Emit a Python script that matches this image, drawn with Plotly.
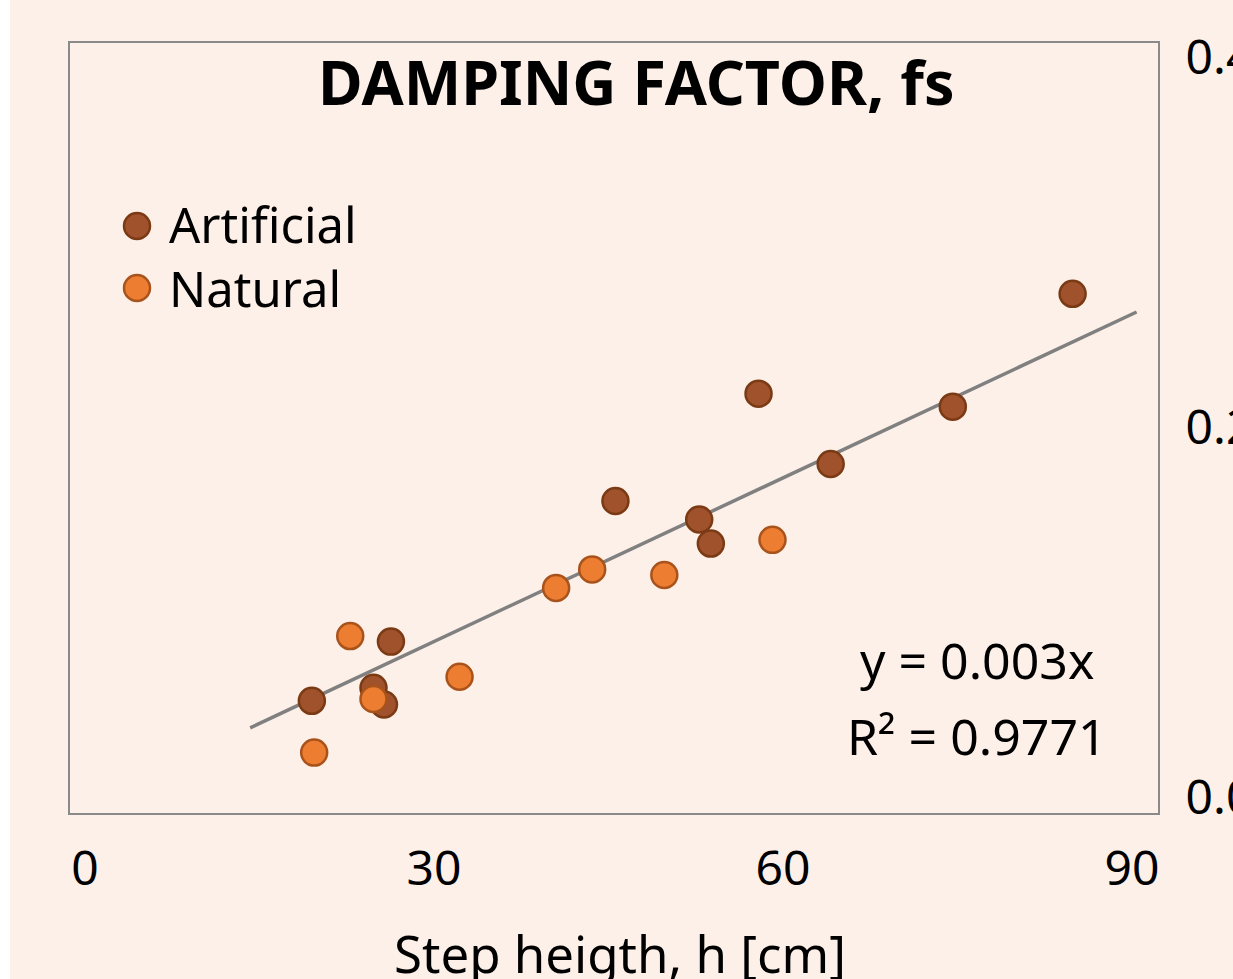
import plotly.graph_objects as go

# ---- data ----
art_x = [84.9, 57.9, 74.6, 64.1, 45.6, 52.8, 53.8, 26.3, 19.5, 24.8, 25.7]
art_y = [0.272, 0.218, 0.211, 0.180, 0.160, 0.150, 0.137, 0.084, 0.052, 0.059, 0.050]
nat_x = [59.1, 43.6, 49.8, 40.5, 22.8, 32.2, 24.8, 19.7]
nat_y = [0.139, 0.123, 0.120, 0.113, 0.087, 0.065, 0.053, 0.024]

trend_slope = 0.00295
trend_intercept = -0.0045
trend_x = [14.2, 90.4]

x_ticks = [0, 30, 60, 90]
y_ticks = [0.0, 0.2, 0.4]
series_names = ["Artificial", "Natural"]
title_text = "<b>DAMPING FACTOR, fs</b>"
x_title = "Step heigth, h [cm]"
eq_lines = ["y = 0.003x", "R² = 0.9771"]

# ---- style ----
BG = "#FDF0E9"
FONT = "Noto Sans"
ART_FILL, ART_LINE = "#A0522D", "#7A3A14"
NAT_FILL, NAT_LINE = "#ED7D31", "#A9531C"

W, H = 1233, 979
L, R, T, B = 70, 75, 43, 166
PW, PH = W - L - R, H - T - B


def px(xp):
    return (xp - L) / PW


def py(yp):
    return (H - B - yp) / PH


fig = go.Figure()

trend_y = [trend_slope * v + trend_intercept for v in trend_x]
fig.add_trace(go.Scatter(x=trend_x, y=trend_y, mode="lines",
                         line=dict(color="#808080", width=3.5),
                         showlegend=False, hoverinfo="skip"))

fig.add_trace(go.Scatter(x=art_x, y=art_y, mode="markers", name=series_names[0],
                         marker=dict(size=26, color=ART_FILL,
                                     line=dict(color=ART_LINE, width=2.5)),
                         showlegend=False))
fig.add_trace(go.Scatter(x=nat_x, y=nat_y, mode="markers", name=series_names[1],
                         marker=dict(size=26, color=NAT_FILL,
                                     line=dict(color=NAT_LINE, width=2.5)),
                         showlegend=False))

shapes = [
    dict(type="rect", xref="paper", yref="paper", x0=px(0), x1=px(10),
         y0=py(H), y1=py(0), fillcolor="white", line=dict(width=0), layer="below"),
]
# custom legend markers
for i, (fill, line) in enumerate([(ART_FILL, ART_LINE), (NAT_FILL, NAT_LINE)]):
    cy = 226 + 62 * i
    shapes.append(dict(type="circle", xref="paper", yref="paper",
                       xsizemode="pixel", ysizemode="pixel",
                       xanchor=px(137), yanchor=py(cy),
                       x0=-13, x1=13, y0=-13, y1=13,
                       fillcolor=fill, line=dict(color=line, width=2.5)))

annotations = [
    dict(text=title_text, xref="paper", yref="paper", x=px(636), y=py(82),
         xanchor="center", yanchor="middle", showarrow=False,
         font=dict(family=FONT, size=61, color="black")),
    dict(text=x_title, xref="paper", yref="paper", x=px(620), y=py(953),
         xanchor="center", yanchor="middle", showarrow=False,
         font=dict(family=FONT, size=51, color="black")),
    # legend labels in one text block
    dict(text="<br>".join(series_names), xref="paper", yref="paper",
         x=px(167), y=py(256), align="left",
         xanchor="left", yanchor="middle", showarrow=False,
         font=dict(family=FONT, size=49, color="black")),
]
for i, t in enumerate(eq_lines):
    annotations.append(dict(text=t, xref="paper", yref="paper",
                            x=px(977), y=py(660 + 76 * i),
                            xanchor="center", yanchor="middle", showarrow=False,
                            font=dict(family=FONT, size=50, color="black")))

fig.update_layout(
    width=W, height=H,
    margin=dict(l=L, r=R, t=T, b=B, autoexpand=False),
    paper_bgcolor=BG, plot_bgcolor=BG,
    font=dict(family=FONT, size=48, color="black"),
    shapes=shapes, annotations=annotations,
    showlegend=False,
)
fig.update_xaxes(range=[-1.29, 92.24], tickvals=x_ticks, ticktext=[str(v) for v in x_ticks],
                 showgrid=False, zeroline=False, showline=True, mirror=True,
                 linecolor="#8A8A8A", linewidth=2, ticks="",
                 ticklabelstandoff=12, automargin=False,
                 tickfont=dict(family=FONT, size=48, color="black"))
fig.update_yaxes(range=[-0.00865, 0.40757], tickvals=y_ticks,
                 ticktext=[f"{v:.1f}" for v in y_ticks], side="right",
                 showgrid=False, zeroline=False, showline=True, mirror=True,
                 linecolor="#8A8A8A", linewidth=2, ticks="",
                 ticklabelstandoff=16, automargin=False,
                 tickfont=dict(family=FONT, size=48, color="black"))

fig.write_html("out.html", config={"displayModeBar": False},
               post_script="document.body.style.margin='0';")
